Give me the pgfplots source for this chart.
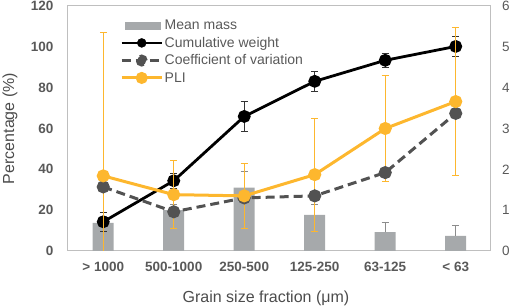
\documentclass[border=0pt]{standalone}
\usepackage{pgfplots}
\pgfplotsset{compat=1.18}
\usepackage{fontspec}
\setmainfont{Liberation Sans}
\definecolor{axgray}{HTML}{BFBFBF}
\definecolor{txtgray}{HTML}{595959}
\definecolor{bargray}{HTML}{A6A9AB}
\definecolor{barerr}{HTML}{8C8C8C}
\definecolor{cvgray}{HTML}{525252}
\definecolor{pliorange}{HTML}{FDB72E}
\begin{document}
\begin{tikzpicture}
\pgfplotsset{
  common/.style={
    width=423pt, height=245pt, scale only axis,
    xmin=-0.5, xmax=5.5,
    major tick length=0pt,
    /pgf/number format/assume math mode=true,
    tick label style={font=\fontsize{13.5}{15}\selectfont, text=txtgray},
  }
}
\begin{axis}[common, at={(0,0)}, anchor=south west,
  ymin=0, ymax=120, ytick={0,20,...,120},
  xtick={0,...,5},
  xticklabels={{> 1000},{500-1000},{250-500},{125-250},{63-125},{< 63}},
  axis line style={axgray, line width=1pt},
  yticklabel style={font=\fontsize{13.5}{15}\selectfont\bfseries, xshift=-11pt},
  xticklabel style={font=\fontsize{13.5}{15}\selectfont\bfseries, yshift=-7.5pt},
  xlabel={Grain size fraction (μm)},
  ylabel={Percentage (\%)},
  label style={font=\fontsize{16}{18}\selectfont, text=txtgray!85!black},
  xlabel style={at={(axis description cs:0.468,-0.192)}, anchor=center},
  ylabel style={at={(axis description cs:-0.137,0.5)}, anchor=center},
]
\addplot[ybar, bar width=21pt, fill=bargray, draw=none,
  error bars/.cd, y dir=plus, y explicit,
  error bar style={barerr, line width=0.9pt},
  error mark options={rotate=90, mark size=3.5pt, barerr, line width=0.9pt}]
  coordinates {
  (0,13.8) +- (0,3)
  (1,20.0) +- (0,3)
  (2,31.0) +- (0,8)
  (3,17.7) +- (0,5)
  (4,9.3) +- (0,4.5)
  (5,7.4) +- (0,5)
};
\addplot[black, line width=2.8pt, mark=*, mark size=5pt,
  error bars/.cd, y dir=both, y explicit,
  error bar style={black!80, line width=0.7pt},
  error mark options={rotate=90, mark size=3.5pt, black!80, line width=0.7pt}]
  coordinates {
  (0,14.3) +- (0,4.5)
  (1,34.4) +- (0,3.5)
  (2,65.9) +- (0,7.5)
  (3,83.1) +- (0,4.7)
  (4,93.4) +- (0,3.5)
  (5,100.2) +- (0,4.7)
};
\end{axis}
\begin{axis}[common, at={(0,0)}, anchor=south west,
  ymin=0, ymax=6, ytick={0,1,...,6},
  axis x line=none,
  axis y line*=right,
  y axis line style={draw=none},
  yticklabel style={xshift=7.5pt},
  legend style={at={(0.123,0.95)}, anchor=north west, draw=none, fill=none,
    font=\fontsize{14}{16}\selectfont, text=txtgray, inner sep=0pt,
    row sep=3pt, nodes={inner sep=1.5pt}},
  legend cell align=left,
]
\addlegendimage{legend image code/.code={\fill[bargray] (3pt,-3.5pt) rectangle (38pt,3.5pt);}}
\addlegendentry{Mean mass}
\addlegendimage{legend image code/.code={
  \draw[black, line width=2.8pt] (0pt,0pt) -- (40pt,0pt);
  \fill[black] (20pt,0pt) circle (4.5pt);}}
\addlegendentry{Cumulative weight}
\addplot[cvgray, line width=3pt, dash pattern=on 9pt off 5pt, mark=*, mark size=5pt,
  mark options={solid},
  legend image code/.code={
  \draw[cvgray, line width=3pt, dash pattern=on 9pt off 5pt] (0pt,0pt) -- (40pt,0pt);
  \fill[cvgray] (20pt,0pt) circle (4.5pt);}]
  coordinates {(0,1.57) (1,0.96) (2,1.30) (3,1.35) (4,1.92) (5,3.37)};
\addlegendentry{Coefficient of variation}
\addplot[pliorange, line width=3pt, mark=*, mark size=5pt,
  legend image code/.code={
  \draw[pliorange, line width=3pt] (0pt,0pt) -- (40pt,0pt);
  \fill[pliorange] (20pt,0pt) circle (4.5pt);},
  error bars/.cd, y dir=both, y explicit,
  error bar style={pliorange, line width=0.9pt},
  error mark options={rotate=90, mark size=3.5pt, pliorange, line width=0.9pt}]
  coordinates {
  (0,1.84) +- (0,3.52)
  (1,1.38) +- (0,0.83)
  (2,1.35) +- (0,0.80)
  (3,1.87) +- (0,1.38)
  (4,3.00) +- (0,1.30)
  (5,3.66) +- (0,1.81)
};
\addlegendentry{PLI}
\end{axis}
\pgfresetboundingbox
\path[use as bounding box] (-68pt,-56pt) rectangle (449pt,251pt);
\end{tikzpicture}
\end{document}
